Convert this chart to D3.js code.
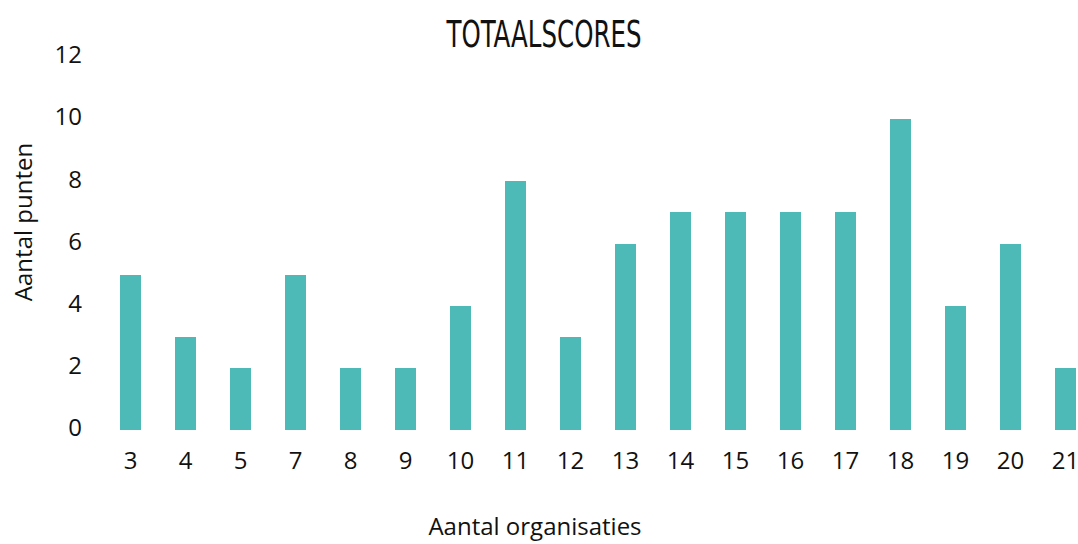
<!DOCTYPE html>
<html><head><meta charset="utf-8">
<script src="https://cdn.jsdelivr.net/npm/d3@7"></script>
<style>body{margin:0;background:#fff}svg{display:block}</style>
</head><body><svg id="c" width="1078" height="544"></svg>
<script>
const categories = ["3","4","5","7","8","9","10","11","12","13","14","15","16","17","18","19","20","21"];
const values = [5,3,2,5,2,2,4,8,3,6,7,7,7,7,10,4,6,2];
const yTicks = [0,2,4,6,8,10,12];
const title = "TOTAALSCORES";
const xTitle = "Aantal organisaties";
const yTitle = "Aantal punten";

const svg = d3.select("#c");
const x = d3.scaleBand().domain(categories).range([103, 1093]).paddingInner(0.62).paddingOuter(0.31);
const y = d3.scaleLinear().domain([0, 12]).range([430, 57]);
const font = "'Open Sans', sans-serif";

svg.append("g").selectAll("rect").data(values).join("rect")
  .attr("x", (d,i) => Math.round(x(categories[i])))
  .attr("width", Math.round(x.bandwidth()))
  .attr("y", d => Math.round(y(d)))
  .attr("height", d => Math.round(y(0)) - Math.round(y(d)))
  .attr("fill", "#4DBAB7");

const ya = svg.append("g").attr("transform", "translate(88,-2)")
  .call(d3.axisLeft(y).tickValues(yTicks).tickSize(0).tickPadding(6));
ya.select(".domain").remove();
ya.selectAll("text").attr("font-family", font).attr("font-size", 24).attr("fill", "#111");

const xa = svg.append("g").attr("transform", "translate(0,448)")
  .call(d3.axisBottom(x).tickSize(0).tickPadding(4));
xa.select(".domain").remove();
xa.selectAll("text").attr("font-family", font).attr("font-size", 24).attr("fill", "#111");

svg.append("text").attr("x", 544).attr("y", 47).attr("text-anchor", "middle")
  .attr("font-family", "'DejaVu Sans Condensed', 'DejaVu Sans', sans-serif")
  .attr("font-size", 37).attr("font-weight", "normal")
  .attr("textLength", 195).attr("lengthAdjust", "spacingAndGlyphs")
  .attr("fill", "#111").text(title);

svg.append("text").attr("x", 535).attr("y", 535).attr("text-anchor", "middle")
  .attr("font-family", font).attr("font-size", 24).attr("fill", "#111").text(xTitle);

svg.append("text").attr("transform", "translate(32,222) rotate(-90)").attr("text-anchor", "middle")
  .attr("font-family", font).attr("font-size", 24).attr("fill", "#111").text(yTitle);
</script></body></html>
